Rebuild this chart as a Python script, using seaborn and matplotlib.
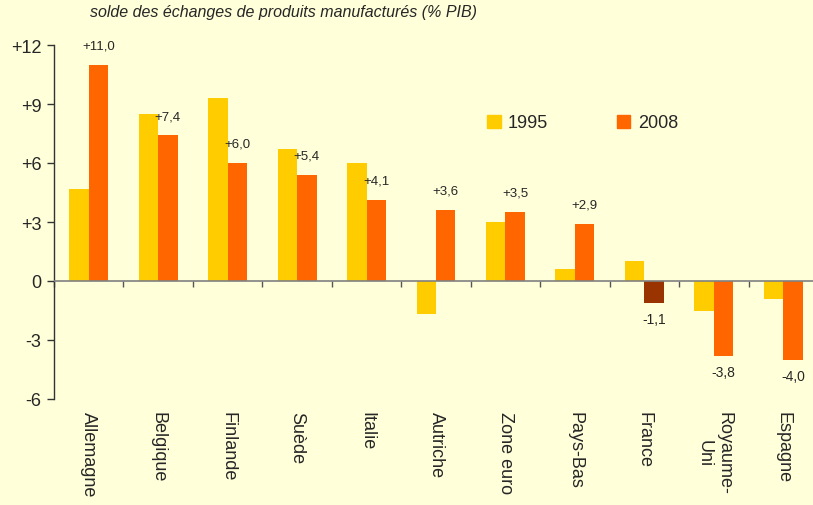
import matplotlib
matplotlib.use("Agg")
import matplotlib.pyplot as plt
import seaborn as sns
import pandas as pd
from matplotlib.patches import Patch

countries = ["Allemagne", "Belgique", "Finlande", "Suède", "Italie", "Autriche",
             "Zone euro", "Pays-Bas", "France", "Royaume-\nUni", "Espagne"]
v1995 = [4.7, 8.5, 9.3, 6.7, 6.0, -1.7, 3.0, 0.6, 1.0, -1.5, -0.9]
v2008 = [11.0, 7.4, 6.0, 5.4, 4.1, 3.6, 3.5, 2.9, -1.1, -3.8, -4.0]
years = ["1995", "2008"]
yticks = [-6, -3, 0, 3, 6, 9, 12]
ytick_labels = ["-6", "-3", "0", "+3", "+6", "+9", "+12"]
title = "solde des échanges de produits manufacturés (% PIB)"

BG = "#FFFFDA"
C95 = "#FFCC00"
C08 = "#FF6600"
CFR = "#993300"

df = pd.DataFrame({
    "pays": countries * 2,
    "annee": [years[0]] * len(countries) + [years[1]] * len(countries),
    "valeur": v1995 + v2008,
})

sns.set_theme(style="white")
plt.rcParams["font.family"] = ["Liberation Sans", "DejaVu Sans"]

fig = plt.figure(figsize=(8.13, 5.06), dpi=100, facecolor=BG)
ax = fig.add_axes([54 / 813, 1 - 400 / 506, 764 / 813, (400 - 46) / 506])
ax.set_facecolor(BG)

sns.barplot(data=df, x="pays", y="valeur", hue="annee", order=countries,
            hue_order=years, palette=[C95, C08], width=0.56, saturation=1,
            linewidth=0, edgecolor="none", ax=ax, legend=False)

ax.set_ylim(-6, 12)
ax.set_xlim(-0.5, len(countries) - 0.5)
ax.set_yticks(yticks)
ax.set_yticklabels(ytick_labels, fontsize=13)
ax.set_xlabel("")
ax.set_ylabel("")

bars2008 = ax.containers[1]
for i, (rect, val) in enumerate(zip(bars2008, v2008)):
    if countries[i] == "France":
        rect.set_facecolor(CFR)
    cx = rect.get_x() + rect.get_width() / 2
    lab = ("+" if val > 0 else "") + f"{val:.1f}".replace(".", ",")
    if val >= 0:
        ax.annotate(lab, (cx, val), xytext=(0, 14), textcoords="offset points",
                    ha="center", va="center", fontsize=9.5)
    else:
        ax.annotate(lab, (cx, val), xytext=(0, -12), textcoords="offset points",
                    ha="center", va="center", fontsize=10)

for s in ["top", "right", "bottom"]:
    ax.spines[s].set_visible(False)
ax.spines["left"].set_color("#333333")
ax.spines["left"].set_linewidth(1)
ax.tick_params(axis="y", direction="out", length=5, width=1, color="#333333",
               left=True, pad=4)

ax.tick_params(axis="x", length=0, pad=9)
ax.set_xticks(range(len(countries)))
ax.set_xticklabels(countries, rotation=-90, fontsize=13, va="top", ha="center",
                   multialignment="center")

ax.axhline(0, color="#808080", lw=1.2, zorder=3)
y0 = (0 - (-6)) / (12 - (-6))
sec = ax.secondary_xaxis(y0)
sec.set_xticks([i - 0.5 for i in range(len(countries) + 1)])
sec.set_xticklabels([])
sec.tick_params(axis="x", direction="out", length=4, color="#555555", width=1,
                top=False, bottom=True)
sec.spines["bottom"].set_visible(False)
sec.spines["top"].set_visible(False)
sec.xaxis.set_ticks_position("bottom")

fig.text(90 / 813, 1 - 13 / 506, title, fontsize=11.5, style="italic",
         va="center", ha="left")

handles = [Patch(facecolor=C95, edgecolor=C95), Patch(facecolor=C08, edgecolor=C08)]
fig.legend(handles, years, loc="center left", bbox_to_anchor=(471 / 813, 1 - 124 / 506),
           ncol=2, frameon=False, fontsize=13, handlelength=0.75, handleheight=0.75,
           handletextpad=0.4, columnspacing=3.8)

fig.savefig("out.png", dpi=100, facecolor=BG)
